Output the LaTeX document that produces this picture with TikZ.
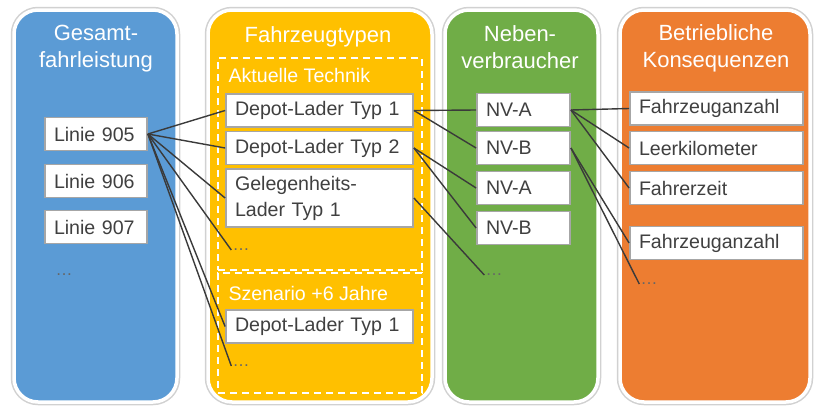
\documentclass[tikz,border=0pt]{standalone}
\usepackage{fontspec}
\setmainfont{Liberation Sans}
\usetikzlibrary{positioning, calc}
\definecolor{laneBlue}  {HTML}{5B9BD5}
\definecolor{laneYellow}{HTML}{FFC000}
\definecolor{laneGreen} {HTML}{70AD47}
\definecolor{laneOrange}{HTML}{ED7D31}
\definecolor{boxGray}   {HTML}{A6A6A6}
\definecolor{txtDark}   {HTML}{404040}
\definecolor{linkGray}  {HTML}{3A3A3A}

\tikzset{
  lane/.style={draw=white, line width=3.5pt, rounded corners=24pt,
    preaction={draw=black!18, line width=6.5pt},
    minimum height=392pt, inner sep=0pt},
  laneTitle/.style={font=\fontsize{22}{27}\selectfont, text=white, align=center},
  itemBox/.style={draw=boxGray, line width=1.8pt, fill=white, text=txtDark,
    font=\fontsize{19.6}{26}\selectfont, minimum height=33pt, inner xsep=9pt,
    inner ysep=4pt, text width=#1, align=left},
  moreDots/.style={font=\fontsize{17}{18}\selectfont, text=txtDark!80, inner sep=1pt},
  groupFrame/.style={draw=white, line width=2pt, dash pattern=on 7pt off 5pt,
    minimum width=204pt, inner sep=0pt},
  groupLabel/.style={font=\fontsize{19.6}{22}\selectfont, text=white, anchor=west},
  link/.style={draw=linkGray, line width=1.4pt},
}

\begin{document}
\begin{tikzpicture}[x=1pt, y=-1pt]
  \useasboundingbox (0,0) rectangle (814,410);

  % lanes
  \node[lane, fill=laneBlue,   minimum width=163pt] (laneA) at (95.5,206) {};
  \node[lane, fill=laneYellow, minimum width=224pt] (laneB) at (320,206) {};
  \node[lane, fill=laneGreen,  minimum width=153pt] (laneC) at (521.5,206) {};
  \node[lane, fill=laneOrange, minimum width=190pt] (laneD) at (715,206) {};

  \node[laneTitle] (titleA) at (96,48.5) {Gesamt-\\fahrleistung};
  \node[laneTitle] (titleB) at (318,37) {Fahrzeugtypen};
  \node[laneTitle] (titleC) at (520,47) {Neben-\\verbraucher};
  \node[laneTitle] (titleD) at (716,48.5) {Betriebliche\\Konsequenzen};

  % Gesamtfahrleistung
  \node[itemBox=84pt] (l905) at (96,134) {Linie 905};
  \node[itemBox=84pt] (l906) at (96,181) {Linie 906};
  \node[itemBox=84pt] (l907) at (96,227) {Linie 907};
  \node[moreDots] (dotsA) at (64,275) {\dots};

  % Fahrzeugtypen, two groups
  \node[groupFrame, minimum height=212pt] (akt)  at (320,164) {};
  \node[groupFrame, minimum height=120pt] (szen) at (320,333) {};
  \node[groupLabel] (aktLbl)  at (225,75)  {Aktuelle Technik};
  \node[groupLabel] (szenLbl) at (225,293) {Szenario +6 Jahre};

  \node[itemBox=169pt] (dl1) at (319.5,110.5) {Depot-Lader Typ 1};
  \node[itemBox=169pt] (dl2) at (319.5,148)   {Depot-Lader Typ 2};
  \node[itemBox=169pt, minimum height=58pt] (gl1) at (319.5,198) {Gelegenheits-\\Lader Typ 1};
  \node[moreDots] (dotsB) at (241,250) {\dots};
  \node[itemBox=169pt] (sdl1) at (319.5,326.5) {Depot-Lader Typ 1};
  \node[moreDots] (dotsS) at (241,366) {\dots};

  % Nebenverbraucher
  \node[itemBox=75pt] (nva1) at (523.5,110) {NV-A};
  \node[itemBox=75pt] (nvb1) at (523.5,148) {NV-B};
  \node[itemBox=75pt] (nva2) at (523.5,188) {NV-A};
  \node[itemBox=75pt] (nvb2) at (523.5,228) {NV-B};
  \node[moreDots] (dotsC) at (494,275) {\dots};

  % Betriebliche Konsequenzen
  \node[itemBox=155pt] (fz1) at (716.5,108.5) {Fahrzeuganzahl};
  \node[itemBox=155pt] (lkm) at (716.5,148)   {Leerkilometer};
  \node[itemBox=155pt] (fzt) at (716.5,188)   {Fahrerzeit};
  \node[itemBox=155pt] (fz2) at (716.5,243)   {Fahrzeuganzahl};
  \node[moreDots] (dotsD) at (649,284) {\dots};

  % links
  \foreach \t in {dl1, dl2, gl1, dotsB, sdl1, dotsS}
    \draw[link] (l905.east) -- (\t.west);
  \draw[link] (dl1.east) -- (nva1.west);
  \draw[link] (dl1.east) -- (nvb1.west);
  \draw[link] (dl2.east) -- (nva2.west);
  \draw[link] (dl2.east) -- (nvb2.west);
  \draw[link] (gl1.east) -- (dotsC.west);
  \foreach \t in {fz1, lkm, fzt}
    \draw[link] (nva1.east) -- (\t.west);
  \draw[link] (nvb1.east) -- (fz2.west);
  \draw[link] (nvb1.east) -- (dotsD.west);
\end{tikzpicture}
\end{document}
